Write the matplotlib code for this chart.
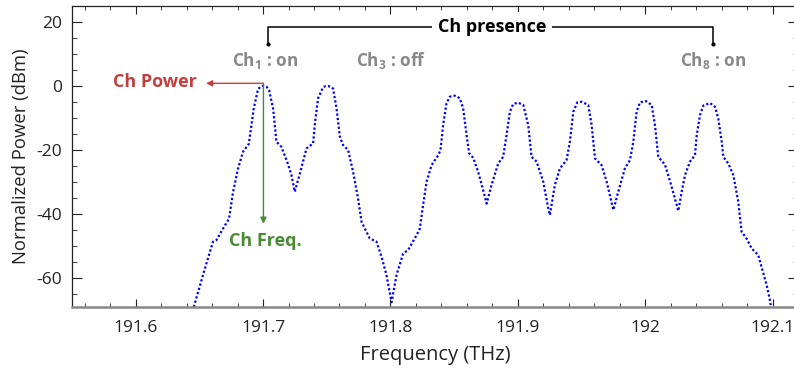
import matplotlib
matplotlib.use("Agg")
import matplotlib.pyplot as plt
from matplotlib.ticker import MultipleLocator

plt.rcParams['font.family'] = ['Open Sans', 'DejaVu Sans']
plt.rcParams['axes.unicode_minus'] = False
plt.rcParams['mathtext.fontset'] = 'custom'
plt.rcParams['mathtext.rm'] = 'Open Sans'
plt.rcParams['mathtext.bf'] = 'Open Sans:bold'

# Spectrum trace (THz, dBm)
freq = [191.6456, 191.6530, 191.6607, 191.6634, 191.6686, 191.6733, 191.6765, 191.6804,
        191.6843, 191.6888, 191.6909, 191.6927, 191.6961, 191.6985, 191.7005, 191.7027,
        191.7047, 191.7079, 191.7105, 191.7144, 191.7189, 191.7223, 191.7249, 191.7288,
        191.7341, 191.7393, 191.7406, 191.7432, 191.7471, 191.7491, 191.7511, 191.7531,
        191.7550, 191.7577, 191.7603, 191.7628, 191.7668, 191.7707, 191.7746, 191.7773,
        191.7838, 191.7891, 191.7930, 191.7969, 191.8009, 191.8048, 191.8100, 191.8139,
        191.8205, 191.8231, 191.8257, 191.8284, 191.8323, 191.8375, 191.8393, 191.8414,
        191.8440, 191.8467, 191.8506, 191.8545, 191.8571, 191.8598, 191.8618, 191.8650,
        191.8689, 191.8728, 191.8755, 191.8794, 191.8846, 191.8885, 191.8912, 191.8938,
        191.8964, 191.9003, 191.9043, 191.9082, 191.9108, 191.9148, 191.9200, 191.9239,
        191.9252, 191.9291, 191.9331, 191.9383, 191.9409, 191.9436, 191.9467, 191.9501,
        191.9553, 191.9580, 191.9606, 191.9658, 191.9698, 191.9750, 191.9789, 191.9841,
        191.9881, 191.9907, 191.9933, 191.9959, 192.0006, 192.0051, 192.0077, 192.0103,
        192.0155, 192.0195, 192.0226, 192.0260, 192.0287, 192.0313, 192.0352, 192.0391,
        192.0405, 192.0431, 192.0457, 192.0509, 192.0548, 192.0574, 192.0601, 192.0614,
        192.0653, 192.0692, 192.0731, 192.0757, 192.0796, 192.0836, 192.0888, 192.0914,
        192.0954, 192.0980, 192.0986]
power = [-69.0, -58.8, -48.6, -48.1, -44.5, -41.4, -33.0, -25.7,
         -20.5, -18.1, -12.2, -7.0, -0.9, -0.1, 0.1, -0.2,
         -1.25, -7.0, -17.4, -19.0, -23.6, -27.8, -33.0, -27.5,
         -19.5, -17.9, -12.2, -3.8, -0.4, 0.0, 0.0, -0.2,
         -0.8, -7.0, -15.8, -18.4, -20.0, -26.8, -35.1, -42.4,
         -47.6, -48.6, -53.3, -59.0, -67.5, -59.0, -52.3, -51.2,
         -46.6, -44.5, -37.0, -29.9, -24.7, -21.6, -20.0, -12.2,
         -5.4, -3.3, -3.0, -3.8, -7.0, -15.3, -21.0, -22.4,
         -26.8, -32.5, -36.7, -30.9, -24.2, -22.1, -15.3, -8.0,
         -5.6, -5.2, -5.9, -12.2, -22.1, -23.6, -29.9, -38.2,
         -40.3, -30.9, -25.7, -23.1, -17.4, -8.0, -5.1, -4.9,
         -5.9, -12.2, -22.6, -24.7, -29.9, -38.7, -33.0, -25.7,
         -23.1, -17.4, -8.0, -5.1, -4.7, -5.9, -12.2, -22.1,
         -24.5, -29.7, -34.0, -39.0, -33.0, -27.8, -23.6, -21.6,
         -15.3, -9.0, -6.1, -5.3, -6.5, -10.1, -17.4, -22.1,
         -24.2, -27.8, -36.1, -45.5, -47.6, -50.7, -52.8, -56.5,
         -62.2, -66.9, -68.4]

ch_labels = ["Ch$_\\mathbf{1}$ : on", "Ch$_\\mathbf{3}$ : off", "Ch$_\\mathbf{8}$ : on"]
ch_label_x = [191.7015, 191.8005, 192.0535]

fig = plt.figure(figsize=(7.94, 3.70), dpi=100)
ax = fig.add_axes([72/794, 63/370, (798-72)/794, (307-6)/370])

ax.plot(freq, power, color='#0000ff', lw=1.6, linestyle=(0, (1, 1)))

ax.set_xlim(191.55, 192.12)
ax.set_ylim(-69, 25)
ax.xaxis.set_major_locator(MultipleLocator(0.1))
ax.xaxis.set_minor_locator(MultipleLocator(0.02))
ax.yaxis.set_major_locator(MultipleLocator(20))
ax.yaxis.set_minor_locator(MultipleLocator(5))
ax.set_xticks([191.6, 191.7, 191.8, 191.9, 192.0, 192.1])
ax.set_xticklabels(['191.6', '191.7', '191.8', '191.9', '192', '192.1'])

ax.tick_params(axis='both', which='both', direction='in', top=True, right=True,
               labelsize=12.5, colors='#222222')
ax.tick_params(axis='x', which='major', length=5.5, pad=9)
ax.tick_params(axis='x', which='minor', length=2.8)
ax.tick_params(axis='y', which='major', length=7, pad=7)
ax.tick_params(axis='y', which='minor', length=3.6)

for s in ['left', 'top']:
    ax.spines[s].set_color('#222222')
    ax.spines[s].set_linewidth(0.9)
ax.spines['bottom'].set_color('#888888')
ax.spines['bottom'].set_linewidth(1.8)
ax.spines['right'].set_visible(False)

ax.set_xlabel('Frequency (THz)', fontsize=14.5, color='#222222', labelpad=7)
ax.set_ylabel('Normalized Power (dBm)', fontsize=13.3, color='#222222', labelpad=5)

# Channel presence bracket
bx0, bx1, by_top, by_bot = 191.7039, 192.0535, 18.5, 13.1
ax.plot([bx0, bx0, bx1, bx1], [by_bot, by_top, by_top, by_bot], color='black', lw=1.1)
ax.plot([bx0, bx1], [by_bot, by_bot], 'o', color='black', ms=2)
ax.text(191.8797, by_top, 'Ch presence', ha='center', va='center', fontsize=13,
        fontweight='bold', color='black',
        bbox=dict(facecolor='white', edgecolor='none', pad=4))

for lab, xx in zip(ch_labels, ch_label_x):
    ax.text(xx, 8.0, lab, ha='center', va='center', fontsize=12.3, fontweight='bold',
            color='#888888')

# Ch Power arrow
ax.annotate('', xy=(191.6553, 0.85), xytext=(191.7003, 0.85),
            arrowprops=dict(arrowstyle='-|>', color='#c04040', lw=1.0, mutation_scale=9,
                            shrinkA=0, shrinkB=0))
ax.text(191.6479, 1.3, 'Ch Power', ha='right', va='center', fontsize=13,
        fontweight='bold', color='#c04040')

# Ch Freq arrow
ax.annotate('', xy=(191.7003, -43.0), xytext=(191.7003, 0.8),
            arrowprops=dict(arrowstyle='-|>', color='#4a8a35', lw=1.0, mutation_scale=9,
                            shrinkA=0, shrinkB=0))
ax.text(191.7018, -48.4, 'Ch Freq.', ha='center', va='center', fontsize=13,
        fontweight='bold', color='#4a8a35')

fig.savefig('out.png', dpi=100)
